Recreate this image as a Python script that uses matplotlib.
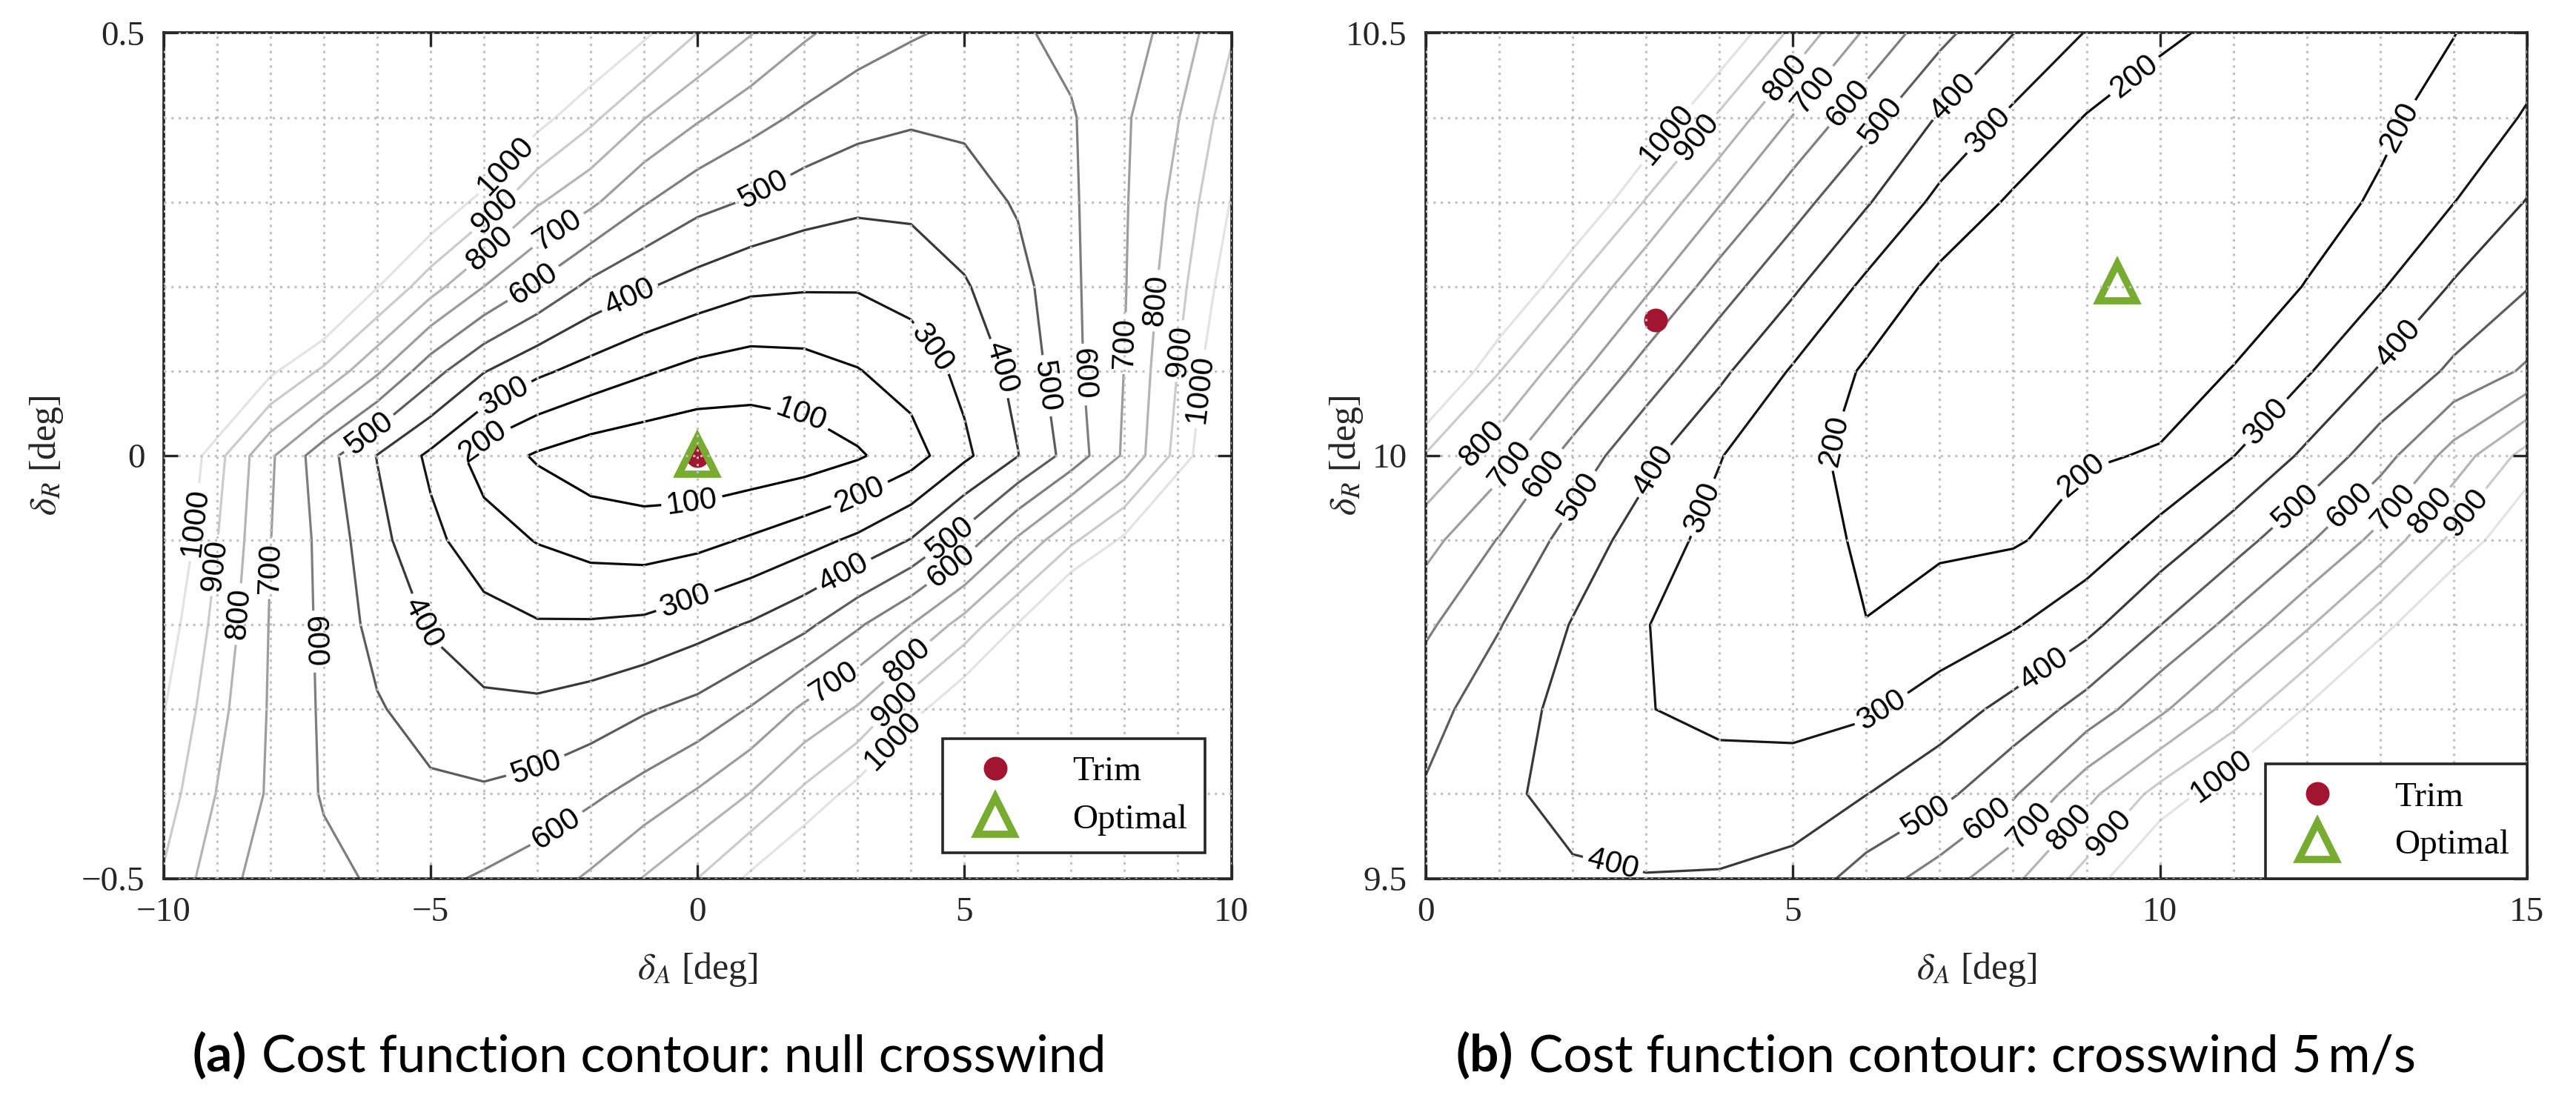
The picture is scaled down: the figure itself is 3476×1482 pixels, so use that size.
import matplotlib
matplotlib.use("Agg")
import numpy as np
import matplotlib.pyplot as plt
from matplotlib.lines import Line2D
from matplotlib.ticker import MultipleLocator

plt.rcParams['font.family'] = ['Liberation Serif', 'DejaVu Serif']
plt.rcParams['mathtext.fontset'] = 'stix'
plt.rcParams['axes.unicode_minus'] = True

# ---------------- (a) null crosswind ----------------
da_null = [-10, -9, -8, -7, -6, -5, -4, -3, -2, -1, 0, 1, 2, 3, 4, 5, 6, 7, 8, 9, 10]
dr_null = [-0.5, -0.4, -0.3, -0.2, -0.1, 0.0, 0.1, 0.2, 0.3, 0.4, 0.5]
# cost, one row per delta_R value
cost_null = [
    [890, 740, 655, 630, 585, 580, 610, 650, 715, 805, 900, 1020, 1130, 1250, 1500, 1650, 1900, 2100, 2200, 2450, 2700],
    [950, 796, 686, 590, 550, 520, 513, 536, 580, 638, 712, 804, 923, 1040, 1230, 1380, 1600, 1800, 1900, 2150, 2400],
    [1005, 832, 690, 584, 510, 455, 423, 421, 445, 490, 530, 608, 720, 811, 960, 1100, 1300, 1500, 1620, 1850, 2100],
    [1060, 868, 694, 578, 465, 391, 335, 308, 310, 320, 362, 409, 475, 586, 700, 840, 1005, 1200, 1320, 1550, 1800],
    [1120, 903, 702, 570, 430, 325, 245, 195, 160, 150, 170, 212, 262, 320, 405, 540, 715, 880, 1020, 1250, 1500],
    [1170, 934, 715, 540, 397, 280, 156, 88, 45, 25, 14, 25, 45, 88, 156, 280, 397, 540, 715, 934, 1170],
    [1500, 1250, 1020, 880, 715, 540, 405, 320, 262, 212, 170, 150, 160, 195, 245, 325, 430, 570, 702, 903, 1120],
    [1800, 1550, 1320, 1200, 1005, 840, 700, 586, 475, 409, 362, 320, 310, 308, 335, 391, 465, 578, 694, 868, 1060],
    [2100, 1850, 1620, 1500, 1300, 1100, 960, 811, 720, 608, 530, 490, 445, 421, 423, 455, 510, 584, 690, 832, 1005],
    [2400, 2150, 1900, 1800, 1600, 1380, 1230, 1040, 923, 804, 712, 638, 580, 536, 513, 520, 550, 590, 686, 796, 950],
    [2700, 2450, 2200, 2100, 1900, 1650, 1500, 1250, 1130, 1020, 900, 805, 715, 650, 610, 580, 585, 630, 655, 740, 890],
]
trim_null = [0.0, 0.0]
opt_null = [0.0, 0.0]

# ---------------- (b) crosswind 5 m/s ----------------
da_wind = [0, 1, 2, 3, 4, 5, 6, 7, 8, 9, 10, 11, 12, 13, 14, 15]
dr_wind = [9.5, 9.6, 9.7, 9.8, 9.9, 10.0, 10.1, 10.2, 10.3, 10.4, 10.5]
cost_wind = [
    [470, 430, 410, 404, 408, 435, 545, 648, 777, 940, 1140, 1350, 1550, 1750, 1950, 2150],
    [490, 415, 375, 345, 335, 345, 398, 470, 587, 770, 935, 1070, 1250, 1450, 1650, 1850],
    [535, 445, 368, 303, 280, 270, 285, 349, 432, 540, 680, 840, 1010, 1200, 1400, 1600],
    [617, 505, 394, 302, 265, 235, 201, 240, 290, 370, 498, 630, 785, 960, 1150, 1300],
    [736, 593, 459, 350, 265, 228, 190, 185, 190, 240, 340, 455, 585, 735, 925, 1100],
    [890, 745, 560, 426, 305, 215, 185, 175, 178, 192, 206, 298, 420, 557, 740, 940],
    [1190, 903, 733, 553, 422, 289, 186, 165, 155, 155, 165, 203, 290, 410, 520, 615],
    [1400, 1150, 896, 720, 545, 417, 277, 170, 150, 140, 145, 160, 203, 290, 410, 495],
    [1650, 1400, 1130, 890, 708, 540, 410, 273, 185, 155, 145, 150, 170, 210, 298, 405],
    [1900, 1650, 1400, 1105, 882, 695, 535, 390, 280, 195, 160, 150, 160, 185, 230, 310],
    [2150, 1900, 1650, 1380, 1100, 875, 684, 530, 402, 295, 215, 180, 170, 180, 198, 250],
]
trim_wind = [3.13, 10.16]
opt_wind = [9.42, 10.205]

levels = [100, 200, 300, 400, 500, 600, 700, 800, 900, 1000]
level_colors = ['#000000', '#0a0a0a', '#161616', '#383838', '#5c5c5c',
                '#7e7e7e', '#9c9c9c', '#b4b4b4', '#cbcbcb', '#e3e3e3']
trim_color = '#A2142F'
opt_color = '#77AC30'

# where the inline level labels sit (data coords)
label_pos_null = [
    (1.92, 0.042), (-0.1, -0.056),
    (-3.97, 0.013), (3.06, -0.049),
    (-3.64, 0.073), (4.3, 0.123), (-0.2, -0.177),
    (-1.26, 0.186), (5.53, 0.1), (-5.12, -0.197), (2.75, -0.14),
    (-6.23, 0.033), (1.24, 0.314), (6.46, 0.082), (-3.02, -0.37), (4.7, -0.096),
    (-3.11, 0.206), (7.25, 0.096), (-7.21, -0.22), (-2.59, -0.446), (4.7, -0.126),
    (-2.65, 0.27), (8.0, 0.133), (-8.0, -0.133), (2.6, -0.271),
    (-3.87, 0.243), (8.66, 0.183), (-8.67, -0.187), (3.88, -0.24),
    (-3.81, 0.29), (9.0, 0.124), (-9.0, -0.13), (3.75, -0.298),
    (-3.64, 0.346), (9.38, 0.079), (-9.34, -0.079), (3.75, -0.342),
]
label_pos_wind = [
    (5.47, 10.02), (9.68, 10.446), (13.48, 10.38), (9.16, 9.96),
    (3.74, 9.94), (7.63, 10.387), (6.28, 9.69), (11.45, 10.04),
    (3.16, 9.98), (7.18, 10.425), (2.55, 9.517), (13.28, 10.13), (8.48, 9.74),
    (2.1, 9.95), (6.13, 10.4), (6.8, 9.575), (11.9, 9.934),
    (1.62, 9.978), (5.72, 10.42), (7.68, 9.567), (12.6, 9.94),
    (1.07, 9.995), (5.32, 10.43), (8.3, 9.557), (13.17, 9.94),
    (0.69, 10.02), (4.92, 10.445), (8.9, 9.55), (13.64, 9.938),
    (3.71, 10.375), (9.42, 9.544), (14.16, 9.934),
    (3.31, 10.378), (10.88, 9.615),
]

spine_c = '#262626'


def draw_panel(ax, xs, ys, zs, trim, opt, label_pos):
    cs = ax.contour(xs, ys, np.array(zs, dtype=float), levels=levels,
                    colors=level_colors, linewidths=1.15)
    with plt.rc_context({'font.family': 'Liberation Sans'}):
        ax.clabel(cs, levels, inline=True, inline_spacing=7, fontsize=15,
                  fmt='%d', colors='k', manual=label_pos)
    ax.plot(trim[0], trim[1], ls='none', marker='o', ms=10.5,
            mfc=trim_color, mec=trim_color)
    ax.plot(opt[0], opt[1], ls='none', marker='^', ms=18, mfc='none',
            mec=opt_color, mew=3.5)
    ax.set_axisbelow(False)
    ax.grid(which='both', linestyle=(0, (1, 2.2)), color='#bfbfbf', linewidth=1.1)
    ax.tick_params(which='major', direction='in', length=7, width=1.2,
                   top=True, right=True, labelsize=17, colors=spine_c, pad=9)
    ax.tick_params(which='minor', length=0)
    for s in ax.spines.values():
        s.set_linewidth(1.3)
        s.set_color(spine_c)
    handles = [Line2D([], [], ls='none', marker='o', ms=10.5, mfc=trim_color, mec=trim_color),
               Line2D([], [], ls='none', marker='^', ms=18, mfc='none', mec=opt_color, mew=3.5)]
    return handles


fig = plt.figure(figsize=(17.38, 7.41), dpi=200)
ax1 = fig.add_axes([0.0635, 0.2, 0.4145, 0.77])
ax2 = fig.add_axes([0.5535, 0.2, 0.4275, 0.77])

h1 = draw_panel(ax1, da_null, dr_null, cost_null, trim_null, opt_null, label_pos_null)
ax1.set_xlim(-10, 10)
ax1.set_ylim(-0.5, 0.5)
ax1.xaxis.set_minor_locator(MultipleLocator(1))
ax1.yaxis.set_minor_locator(MultipleLocator(0.1))
ax1.set_xticks([-10, -5, 0, 5, 10], ['\u221210', '\u22125', '0', '5', '10'])
ax1.set_yticks([-0.5, 0, 0.5], ['\u22120.5', '0', '0.5'])
leg1 = ax1.legend(h1, ['Trim', 'Optimal'], loc='lower right', bbox_to_anchor=(0.975, 0.03),
                  fontsize=17, fancybox=False, framealpha=1, edgecolor=spine_c,
                  handletextpad=1.2, borderpad=0.5, labelspacing=0.45, borderaxespad=0)
leg1.get_frame().set_linewidth(1.3)

h2 = draw_panel(ax2, da_wind, dr_wind, cost_wind, trim_wind, opt_wind, label_pos_wind)
ax2.set_xlim(0, 15)
ax2.set_ylim(9.5, 10.5)
ax2.xaxis.set_minor_locator(MultipleLocator(1))
ax2.yaxis.set_minor_locator(MultipleLocator(0.1))
ax2.set_xticks([0, 5, 10, 15], ['0', '5', '10', '15'])
ax2.set_yticks([9.5, 10, 10.5], ['9.5', '10', '10.5'])
leg2 = ax2.legend(h2, ['Trim', 'Optimal'], loc='lower right', bbox_to_anchor=(1.0, 0.0),
                  fontsize=17, fancybox=False, framealpha=1, edgecolor=spine_c,
                  handletextpad=1.2, borderpad=0.5, labelspacing=0.45, borderaxespad=0)
leg2.get_frame().set_linewidth(1.3)

for ax, ylx in ((ax1, -0.092), (ax2, -0.055)):
    ax.set_xlabel(r'$\delta_A$ [deg]', fontsize=18, color=spine_c)
    ax.set_ylabel(r'$\delta_R$ [deg]', fontsize=18, color=spine_c)
    ax.xaxis.set_label_coords(0.5, -0.085)
    ax.yaxis.set_label_coords(ylx, 0.5)

# captions: bold tag + regular text, centred as one line
cap_font = 'Lato'
cap_size = 25
fig.canvas.draw()
rend = fig.canvas.get_renderer()
W = fig.bbox.width
for xc, tag, text in ((0.252, '(a)', 'Cost function contour: null crosswind'),
                      (0.7515, '(b)', 'Cost function contour: crosswind 5\u2009m/s')):
    t1 = fig.text(0, 0.024, tag, family=cap_font, fontweight='bold', size=cap_size, va='baseline')
    t2 = fig.text(0, 0.024, text, family=[cap_font, 'DejaVu Sans'], size=cap_size, va='baseline')
    w1 = t1.get_window_extent(rend).width
    w2 = t2.get_window_extent(rend).width
    gap = 0.3 * cap_size * 200 / 72
    x0 = xc * W - (w1 + gap + w2) / 2
    t1.set_x(x0 / W)
    t2.set_x((x0 + w1 + gap) / W)

fig.savefig('out.png', dpi=200)
